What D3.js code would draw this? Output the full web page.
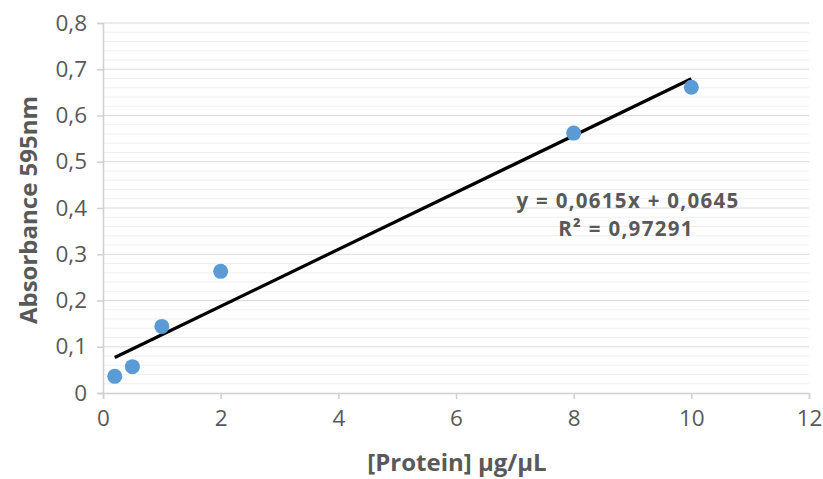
<!DOCTYPE html>
<html><head><meta charset="utf-8">
<script src="https://cdn.jsdelivr.net/npm/d3@7"></script>
<style>body{margin:0;background:#fff;} svg{display:block;font-family:"Open Sans",sans-serif;}</style>
</head><body>
<svg id="c" width="823" height="479"></svg>
<script>
const concentrations = [0.2, 0.5, 1, 2, 8, 10];
const absorbances = [0.036, 0.057, 0.144, 0.263, 0.562, 0.661];
const xTicks = [0, 2, 4, 6, 8, 10, 12];
const yTicks = [0, 0.1, 0.2, 0.3, 0.4, 0.5, 0.6, 0.7, 0.8];
const slope = 0.0615, intercept = 0.0645;
const eqLabel = "y = 0,0615x + 0,0645";
const r2Label = "R² = 0,97291";

const svg = d3.select("#c");
const x = d3.scaleLinear().domain([0, 12]).range([103, 809]);
const y = d3.scaleLinear().domain([0, 0.8]).range([393, 23]);
const fmt = d => String(+d.toFixed(1)).replace(".", ",");

// minor grid
const minor = d3.range(0, 0.8001, 0.02).filter(v => Math.abs(v*10 - Math.round(v*10)) > 1e-6);
svg.append("g").selectAll("line").data(minor).join("line")
  .attr("x1", x(0)).attr("x2", x(12)).attr("y1", d => y(d)).attr("y2", d => y(d))
  .attr("stroke", "#efefef").attr("stroke-width", 1);
// major grid
svg.append("g").selectAll("line").data(yTicks.slice(1)).join("line")
  .attr("x1", x(0)).attr("x2", x(12)).attr("y1", d => y(d)).attr("y2", d => y(d))
  .attr("stroke", "#d9d9d9").attr("stroke-width", 1.2);

// axes
const yAxis = svg.append("g").attr("transform", `translate(${x(0)},0)`)
  .call(d3.axisLeft(y).tickValues(yTicks).tickFormat(fmt).tickSize(6).tickPadding(10));
const xAxis = svg.append("g").attr("transform", `translate(0,${y(0)})`)
  .call(d3.axisBottom(x).tickValues(xTicks).tickFormat(d => d).tickSize(6).tickPadding(11));
[yAxis, xAxis].forEach(a => {
  a.select(".domain").attr("stroke", "#d0d0d0").attr("stroke-width", 1.5);
  a.selectAll(".tick line").attr("stroke", "#d0d0d0").attr("stroke-width", 1.5);
  a.selectAll("text").attr("fill", "#595959").attr("font-size", 22.5).attr("font-family", "Open Sans, sans-serif");
});

// trendline
const x0 = d3.min(concentrations), x1 = d3.max(concentrations);
svg.append("line")
  .attr("x1", x(x0)).attr("y1", y(slope*x0 + intercept))
  .attr("x2", x(x1)).attr("y2", y(slope*x1 + intercept))
  .attr("stroke", "#000").attr("stroke-width", 3.2);

// points
svg.append("g").selectAll("circle").data(concentrations).join("circle")
  .attr("cx", d => x(d)).attr("cy", (d, i) => y(absorbances[i])).attr("r", 7.5)
  .attr("fill", "#5b9bd5");

// equation label
svg.append("text").attr("x", 628).attr("y", 208).attr("text-anchor", "middle")
  .attr("font-size", 20.5).attr("letter-spacing", 1.3).attr("font-weight", "bold").attr("fill", "#595959").text(eqLabel);
svg.append("text").attr("x", 626).attr("y", 236).attr("text-anchor", "middle")
  .attr("font-size", 20.5).attr("letter-spacing", 1.3).attr("font-weight", "bold").attr("fill", "#595959").text(r2Label);

// axis titles
svg.append("text").attr("x", 457).attr("y", 471).attr("text-anchor", "middle")
  .attr("font-size", 24).attr("font-weight", "bold").attr("fill", "#595959").text("[Protein] µg/µL");
svg.append("text").attr("transform", "translate(37,210) rotate(-90)").attr("text-anchor", "middle")
  .attr("font-size", 24).attr("font-weight", "bold").attr("fill", "#595959").text("Absorbance 595nm");
</script>
</body></html>
